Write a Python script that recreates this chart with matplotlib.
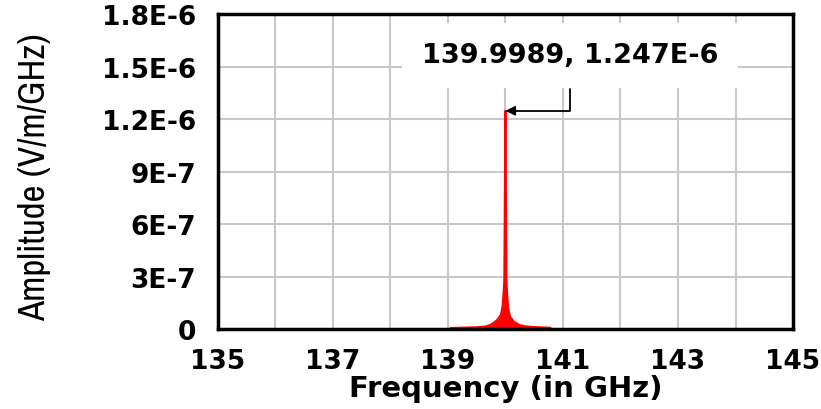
import matplotlib.pyplot as plt
from matplotlib import font_manager

# spectrum around the carrier (GHz, V/m/GHz)
freq = [139.05, 139.3, 139.5, 139.65, 139.75, 139.85, 139.92, 139.95, 139.97,
        139.98, 139.9989, 140.015, 140.025, 140.045, 140.08, 140.15, 140.25,
        140.35, 140.5, 140.65, 140.78]
amp = [0.6e-8, 0.8e-8, 1.0e-8, 1.4e-8, 2.5e-8, 5.0e-8, 8.0e-8, 1.3e-7, 2.2e-7,
       2.8e-7, 1.247e-6, 2.8e-7, 2.2e-7, 1.2e-7, 7.0e-8, 4.0e-8, 2.2e-8,
       1.5e-8, 1.1e-8, 0.9e-8, 0.7e-8]

peak_f = 139.9989
peak_a = 1.247e-6

x_ticks = [135, 137, 139, 141, 143, 145]
y_ticks = [0, 3e-7, 6e-7, 9e-7, 1.2e-6, 1.5e-6, 1.8e-6]
y_labels = ['0', '3E-7', '6E-7', '9E-7', '1.2E-6', '1.5E-6', '1.8E-6']

plt.rcParams['font.family'] = ['DejaVu Sans']

fig = plt.figure(figsize=(8.21, 4.10), dpi=100)
ax = fig.add_axes([0.2655, 0.1951, 0.7004, 0.7683])

ax.fill_between(freq, amp, 0, color='red', lw=0)
ax.plot(freq, amp, color='red', lw=1.5)

ax.set_xlim(135, 145)
ax.set_ylim(0, 1.8e-6)
ax.set_xticks(range(135, 146), minor=True)
ax.set_xticks(x_ticks)
ax.set_yticks(y_ticks)
ax.set_yticklabels(y_labels)
ax.grid(True, which='both', axis='x', color='#c8c8c8', lw=1.5)
ax.grid(True, axis='y', color='#c8c8c8', lw=1.5)
ax.set_axisbelow(True)
ax.tick_params(which='both', length=0, labelsize=19)
ax.tick_params(axis='y', pad=16)
ax.tick_params(axis='x', pad=14)
for lab in ax.get_xticklabels() + ax.get_yticklabels():
    lab.set_fontweight('bold')
for sp in ax.spines.values():
    sp.set_linewidth(2.5)

ax.set_xlabel('Frequency (in GHz)', fontsize=21, fontweight='bold', labelpad=0)
narrow = [f.name for f in font_manager.fontManager.ttflist if 'Narrow' in f.name]
ylab_family = [narrow[0], 'DejaVu Sans'] if narrow else ['Liberation Sans', 'DejaVu Sans']
ax.set_ylabel('Amplitude (V/m/GHz)', fontsize=26.5, family=ylab_family)
ax.yaxis.set_label_coords(-0.29, 0.485)

# peak marker with elbow arrow
ax.annotate('', xy=(peak_f, peak_a), xytext=(141.12, 1.371e-6),
            arrowprops=dict(arrowstyle='-|>', color='black', lw=1.3,
                            connectionstyle='angle,angleA=90,angleB=0,rad=0',
                            shrinkA=0, shrinkB=0, mutation_scale=14))
ax.text(141.12, 1.565e-6, f'{peak_f}, {peak_a:.3E}'.replace('E-06', 'E-6'),
        ha='center', va='center', fontsize=19.5, fontweight='bold',
        bbox=dict(facecolor='white', edgecolor='none', pad=14))

fig.savefig('out.png', dpi=100)
